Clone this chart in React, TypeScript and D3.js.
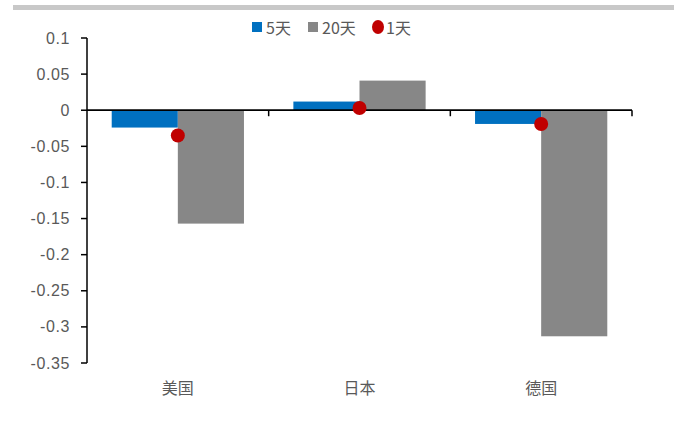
import React from "react";
import * as d3 from "d3";

const categories = ["美国", "日本", "德国"];
const fiveDay = [-0.024, 0.012, -0.019];
const twentyDay = [-0.157, 0.041, -0.313];
const oneDay = [-0.035, 0.003, -0.019];
const yTicks = [0.1, 0.05, 0, -0.05, -0.1, -0.15, -0.2, -0.25, -0.3, -0.35];
const yTickLabels = ["0.1", "0.05", "0", "-0.05", "-0.1", "-0.15", "-0.2", "-0.25", "-0.3", "-0.35"];
const legendLabels = ["5天", "20天", "1天"];

const W = 674, H = 425;
const BLUE = "#0070C0", GRAY = "#878787", RED = "#C00000", TXT = "#595959";

export default function App() {
  const left = 87, right = 632, top = 38, bottom = 363;
  const y = d3.scaleLinear().domain([-0.35, 0.1]).range([bottom, top]);
  const x = d3.scaleBand<string>().domain(categories).range([left, right]).paddingInner(0).paddingOuter(0);
  const bw = x.bandwidth();
  const barW = bw * 0.364;
  const y0 = y(0);
  const font = "'Liberation Sans', Arial, sans-serif";
  const cjk = "'Noto Sans CJK SC', sans-serif";
  return (
    <div style={{ position: "fixed", left: 0, top: 0 }}>
      <svg width={W} height={H} style={{ display: "block", background: "#fff" }}>
        <rect x={13} y={5} width={W - 13} height={5} fill="#c8c8c8" />
        {/* bars */}
        {categories.map((c, i) => {
          const cx = (x(c) as number) + bw / 2;
          const v5 = fiveDay[i], v20 = twentyDay[i];
          return (
            <g key={c}>
              <rect x={cx - barW} y={Math.min(y(v5), y0)} width={barW} height={Math.abs(y(v5) - y0)} fill={BLUE} />
              <rect x={cx} y={Math.min(y(v20), y0)} width={barW} height={Math.abs(y(v20) - y0)} fill={GRAY} />
            </g>
          );
        })}
        {/* y axis */}
        <line x1={left} x2={left} y1={top} y2={bottom} stroke="#000" strokeWidth={1.5} />
        {yTicks.map((t, i) => (
          <g key={t}>
            <line x1={left - 6} x2={left} y1={y(t)} y2={y(t)} stroke="#000" strokeWidth={1.5} />
            <text x={70} y={y(t)} dy="0.35em" textAnchor="end" fontFamily={font} fontSize={16} letterSpacing={0.6} fill={TXT}>
              {yTickLabels[i]}
            </text>
          </g>
        ))}
        {/* zero line */}
        <line x1={left} x2={right} y1={y0} y2={y0} stroke="#000" strokeWidth={1.8} />
        {categories.map((c) => (
          <line key={c} x1={(x(c) as number) + bw} x2={(x(c) as number) + bw} y1={y0} y2={y0 + 6} stroke="#000" strokeWidth={1.5} />
        ))}
        {/* dots */}
        {categories.map((c, i) => (
          <circle key={c} cx={(x(c) as number) + bw / 2} cy={y(oneDay[i])} r={7} fill={RED} />
        ))}
        {/* category labels */}
        {categories.map((c) => (
          <text key={c} x={(x(c) as number) + bw / 2} y={394} textAnchor="middle" fontFamily={cjk} fontSize={16} fill={TXT}>
            {c}
          </text>
        ))}
        {/* legend */}
        <g fontFamily={cjk} fontSize={16} fill={TXT}>
          <rect x={252} y={22} width={10} height={10} fill={BLUE} />
          <text x={266} y={34}>{legendLabels[0]}</text>
          <rect x={308} y={22} width={10} height={10} fill={GRAY} />
          <text x={322} y={34}>{legendLabels[1]}</text>
          <ellipse cx={378} cy={27} rx={6} ry={7} fill={RED} />
          <text x={386} y={34}>{legendLabels[2]}</text>
        </g>
      </svg>
    </div>
  );
}
